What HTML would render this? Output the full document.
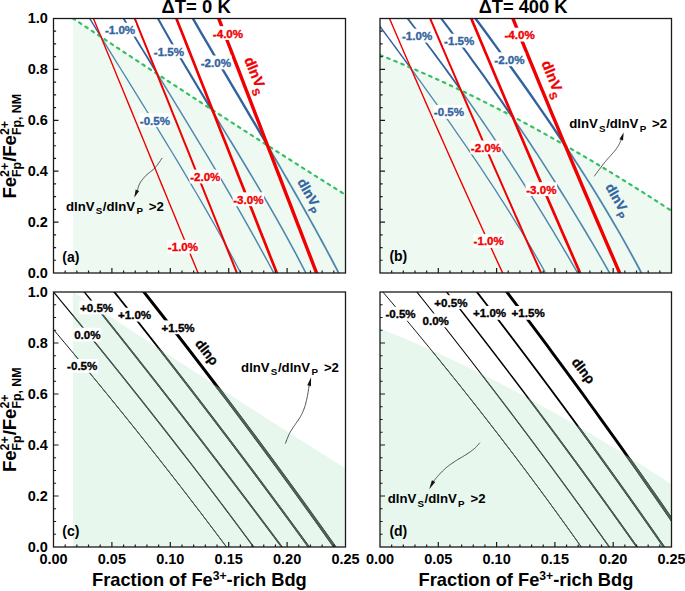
<!DOCTYPE html><html><head><meta charset="utf-8"><style>html,body{margin:0;padding:0;background:#fff;overflow:hidden;}svg{display:block;}text{font-family:"Liberation Sans",sans-serif;font-weight:bold;}</style></head><body>
<svg width="685" height="591" viewBox="0 0 685 591">
<rect width="100%" height="100%" fill="#fff"/>
<defs>
<clipPath id="ca"><rect x="53.5" y="18.5" width="292" height="254.5"/></clipPath>
<clipPath id="cb"><rect x="380" y="18.5" width="291.5" height="254.5"/></clipPath>
<clipPath id="cc"><rect x="53.5" y="292" width="292" height="255"/></clipPath>
<clipPath id="cd"><rect x="380" y="292" width="291.5" height="255"/></clipPath>
<clipPath id="fc"><polygon points="72.9,291.76 77.52,294.83 82.14,297.91 86.76,300.97 91.38,304.04 96,307.1 100.62,310.16 105.24,313.22 109.86,316.28 114.48,319.33 119.1,322.38 123.72,325.43 128.34,328.47 132.96,331.52 137.58,334.56 142.21,337.6 146.83,340.63 151.45,343.66 156.07,346.69 160.69,349.72 165.31,352.74 169.93,355.76 174.55,358.78 179.17,361.8 183.79,364.81 188.41,367.82 193.03,370.83 197.65,373.83 202.27,376.83 206.89,379.83 211.51,382.83 216.13,385.82 220.75,388.81 225.37,391.8 229.99,394.78 234.61,397.76 239.23,400.74 243.85,403.71 248.47,406.68 253.09,409.65 257.71,412.62 262.33,415.58 266.95,418.54 271.57,421.5 276.19,424.45 280.82,427.4 285.44,430.35 290.06,433.29 294.68,436.23 299.3,439.17 303.92,442.1 308.54,445.03 313.16,447.96 317.78,450.88 322.4,453.8 327.02,456.72 331.64,459.63 336.26,462.54 340.88,465.45 345.5,468.35 345.5,547 72.9,547"/></clipPath>
<clipPath id="fd"><polygon points="380,328.59 384.94,330.54 389.88,332.52 394.82,334.53 399.76,336.56 404.7,338.62 409.64,340.71 414.58,342.82 419.53,344.96 424.47,347.12 429.41,349.32 434.35,351.53 439.29,353.77 444.23,356.04 449.17,358.33 454.11,360.65 459.05,362.99 463.99,365.36 468.93,367.75 473.87,370.16 478.81,372.6 483.75,375.06 488.69,377.55 493.64,380.06 498.58,382.59 503.52,385.14 508.46,387.72 513.4,390.32 518.34,392.94 523.28,395.59 528.22,398.25 533.16,400.94 538.1,403.65 543.04,406.38 547.98,409.13 552.92,411.91 557.86,414.7 562.81,417.52 567.75,420.35 572.69,423.21 577.63,426.08 582.57,428.98 587.51,431.89 592.45,434.83 597.39,437.78 602.33,440.76 607.27,443.75 612.21,446.76 617.15,449.79 622.09,452.83 627.03,455.9 631.97,458.98 636.92,462.09 641.86,465.2 646.8,468.34 651.74,471.49 656.68,474.66 661.62,477.85 666.56,481.06 671.5,484.28 671.5,547 380,547"/></clipPath>
</defs>
<polygon fill="#eef9f1" points="72.9,18.26 77.52,21.33 82.14,24.41 86.76,27.47 91.38,30.54 96,33.6 100.62,36.66 105.24,39.72 109.86,42.78 114.48,45.83 119.1,48.88 123.72,51.93 128.34,54.97 132.96,58.02 137.58,61.06 142.21,64.1 146.83,67.13 151.45,70.16 156.07,73.19 160.69,76.22 165.31,79.24 169.93,82.26 174.55,85.28 179.17,88.3 183.79,91.31 188.41,94.32 193.03,97.33 197.65,100.33 202.27,103.33 206.89,106.33 211.51,109.33 216.13,112.32 220.75,115.31 225.37,118.3 229.99,121.28 234.61,124.26 239.23,127.24 243.85,130.21 248.47,133.18 253.09,136.15 257.71,139.12 262.33,142.08 266.95,145.04 271.57,148 276.19,150.95 280.82,153.9 285.44,156.85 290.06,159.79 294.68,162.73 299.3,165.67 303.92,168.6 308.54,171.53 313.16,174.46 317.78,177.38 322.4,180.3 327.02,183.22 331.64,186.13 336.26,189.04 340.88,191.95 345.5,194.85 345.5,273 72.9,273"/>
<polygon fill="#eef9f1" points="380,55.09 384.94,57.04 389.88,59.02 394.82,61.03 399.76,63.06 404.7,65.12 409.64,67.21 414.58,69.32 419.53,71.46 424.47,73.62 429.41,75.82 434.35,78.03 439.29,80.27 444.23,82.54 449.17,84.83 454.11,87.15 459.05,89.49 463.99,91.86 468.93,94.25 473.87,96.66 478.81,99.1 483.75,101.56 488.69,104.05 493.64,106.56 498.58,109.09 503.52,111.64 508.46,114.22 513.4,116.82 518.34,119.44 523.28,122.09 528.22,124.75 533.16,127.44 538.1,130.15 543.04,132.88 547.98,135.63 552.92,138.41 557.86,141.2 562.81,144.02 567.75,146.85 572.69,149.71 577.63,152.58 582.57,155.48 587.51,158.39 592.45,161.33 597.39,164.28 602.33,167.26 607.27,170.25 612.21,173.26 617.15,176.29 622.09,179.33 627.03,182.4 631.97,185.48 636.92,188.59 641.86,191.7 646.8,194.84 651.74,197.99 656.68,201.16 661.62,204.35 666.56,207.56 671.5,210.78 671.5,273 380,273"/>
<polygon fill="#e7f7ed" points="72.9,291.76 77.52,294.83 82.14,297.91 86.76,300.97 91.38,304.04 96,307.1 100.62,310.16 105.24,313.22 109.86,316.28 114.48,319.33 119.1,322.38 123.72,325.43 128.34,328.47 132.96,331.52 137.58,334.56 142.21,337.6 146.83,340.63 151.45,343.66 156.07,346.69 160.69,349.72 165.31,352.74 169.93,355.76 174.55,358.78 179.17,361.8 183.79,364.81 188.41,367.82 193.03,370.83 197.65,373.83 202.27,376.83 206.89,379.83 211.51,382.83 216.13,385.82 220.75,388.81 225.37,391.8 229.99,394.78 234.61,397.76 239.23,400.74 243.85,403.71 248.47,406.68 253.09,409.65 257.71,412.62 262.33,415.58 266.95,418.54 271.57,421.5 276.19,424.45 280.82,427.4 285.44,430.35 290.06,433.29 294.68,436.23 299.3,439.17 303.92,442.1 308.54,445.03 313.16,447.96 317.78,450.88 322.4,453.8 327.02,456.72 331.64,459.63 336.26,462.54 340.88,465.45 345.5,468.35 345.5,547 72.9,547"/>
<polygon fill="#e7f7ed" points="380,328.59 384.94,330.54 389.88,332.52 394.82,334.53 399.76,336.56 404.7,338.62 409.64,340.71 414.58,342.82 419.53,344.96 424.47,347.12 429.41,349.32 434.35,351.53 439.29,353.77 444.23,356.04 449.17,358.33 454.11,360.65 459.05,362.99 463.99,365.36 468.93,367.75 473.87,370.16 478.81,372.6 483.75,375.06 488.69,377.55 493.64,380.06 498.58,382.59 503.52,385.14 508.46,387.72 513.4,390.32 518.34,392.94 523.28,395.59 528.22,398.25 533.16,400.94 538.1,403.65 543.04,406.38 547.98,409.13 552.92,411.91 557.86,414.7 562.81,417.52 567.75,420.35 572.69,423.21 577.63,426.08 582.57,428.98 587.51,431.89 592.45,434.83 597.39,437.78 602.33,440.76 607.27,443.75 612.21,446.76 617.15,449.79 622.09,452.83 627.03,455.9 631.97,458.98 636.92,462.09 641.86,465.2 646.8,468.34 651.74,471.49 656.68,474.66 661.62,477.85 666.56,481.06 671.5,484.28 671.5,547 380,547"/>
<g clip-path="url(#ca)" fill="none" stroke-linecap="butt">
<path d="M87.2,14.5 L88.26,16.25 L89.33,17.99 L90.4,19.74 L91.47,21.48 L92.54,23.23 L93.61,24.98 L94.68,26.72 L95.75,28.47 L96.83,30.22 L97.9,31.96 L98.97,33.71 L100.05,35.45 L101.12,37.2" stroke="#3263a0" stroke-width="1.4"/>
<path d="M101.12,37.2 L106.18,45.4 L111.25,53.6 L116.33,61.8 L121.41,70 L126.49,78.2 L131.57,86.4 L136.65,94.6 L141.72,102.8 L146.78,111 L151.83,119.2 L156.86,127.4 L161.87,135.6 L166.87,143.8 L171.84,152 L176.79,160.2 L181.7,168.4 L186.59,176.6 L191.44,184.8 L196.25,193 L201.02,201.2 L205.75,209.4 L210.44,217.6 L215.08,225.8 L219.66,234 L224.19,242.2 L228.67,250.4 L233.08,258.6 L237.43,266.8 L241.72,275" stroke="#4f86ad" stroke-width="1.3"/>
<path d="M121.2,14.5 L123.89,18.95 L126.59,23.41 L129.29,27.86 L131.99,32.32 L134.7,36.77 L137.41,41.22 L140.13,45.68 L142.85,50.13 L145.57,54.58 L148.29,59.04 L151.01,63.49 L153.74,67.95 L156.46,72.4" stroke="#3263a0" stroke-width="1.8"/>
<path d="M156.46,72.4 L160.74,79.39 L165.01,86.37 L169.28,93.36 L173.55,100.34 L177.82,107.33 L182.07,114.32 L186.32,121.3 L190.57,128.29 L194.8,135.28 L199.01,142.26 L203.22,149.25 L207.4,156.23 L211.58,163.22 L215.73,170.21 L219.86,177.19 L223.98,184.18 L228.06,191.17 L232.13,198.15 L236.17,205.14 L240.18,212.12 L244.17,219.11 L248.12,226.1 L252.05,233.08 L255.94,240.07 L259.79,247.06 L263.61,254.04 L267.39,261.03 L271.14,268.01 L274.84,275" stroke="#4f86ad" stroke-width="1.45"/>
<path d="M155.74,14.5 L159.76,21.74 L163.82,28.98 L167.94,36.22 L172.09,43.45 L176.29,50.69 L180.52,57.93 L184.79,65.17 L189.08,72.41 L193.4,79.65 L197.74,86.88 L202.1,94.12 L206.48,101.36 L210.86,108.6" stroke="#3263a0" stroke-width="2.1"/>
<path d="M210.86,108.6 L214.35,114.34 L217.83,120.08 L221.32,125.81 L224.81,131.55 L228.29,137.29 L231.78,143.03 L235.25,148.77 L238.72,154.5 L242.19,160.24 L245.64,165.98 L249.08,171.72 L252.5,177.46 L255.91,183.19 L259.3,188.93 L262.67,194.67 L266.02,200.41 L269.35,206.14 L272.66,211.88 L275.93,217.62 L279.18,223.36 L282.41,229.1 L285.6,234.83 L288.75,240.57 L291.87,246.31 L294.96,252.05 L298.01,257.79 L301.01,263.52 L303.98,269.26 L306.9,275" stroke="#4f86ad" stroke-width="1.6"/>
<path d="M190.59,14.5 L196.45,24.65 L202.34,34.81 L208.27,44.96 L214.22,55.12 L220.2,65.27 L226.19,75.42 L232.19,85.58 L238.2,95.73 L244.2,105.88 L250.21,116.04 L256.2,126.19 L262.18,136.35 L268.14,146.5" stroke="#3263a0" stroke-width="2.4"/>
<path d="M268.14,146.5 L270.74,150.93 L273.32,155.36 L275.91,159.79 L278.48,164.22 L281.06,168.66 L283.62,173.09 L286.18,177.52 L288.72,181.95 L291.27,186.38 L293.8,190.81 L296.32,195.24 L298.84,199.67 L301.34,204.1 L303.83,208.53 L306.32,212.97 L308.79,217.4 L311.25,221.83 L313.7,226.26 L316.14,230.69 L318.56,235.12 L320.98,239.55 L323.37,243.98 L325.76,248.41 L328.13,252.84 L330.48,257.28 L332.82,261.71 L335.15,266.14 L337.45,270.57 L339.74,275" stroke="#4f86ad" stroke-width="1.8"/>
<path d="M72.9,18.26 L76.38,20.57 L79.85,22.88 L83.33,25.19 L86.8,27.5 L90.28,29.81 L93.76,32.11 L97.23,34.42 L100.71,36.72 L104.18,39.02 L107.66,41.32 L111.14,43.62 L114.61,45.92 L118.09,48.21 L121.56,50.5 L125.04,52.8 L128.52,55.09 L131.99,57.38 L135.47,59.66 L138.94,61.95 L142.42,64.24 L145.89,66.52 L149.37,68.8 L152.85,71.08 L156.32,73.36 L159.8,75.64 L163.27,77.91 L166.75,80.19 L170.23,82.46 L173.7,84.73 L177.18,87 L180.65,89.27 L184.13,91.53 L187.61,93.8 L191.08,96.06 L194.56,98.32 L198.03,100.58 L201.51,102.84 L204.99,105.1 L208.46,107.35 L211.94,109.6 L215.41,111.86 L218.89,114.11 L222.37,116.35 L225.84,118.6 L229.32,120.84 L232.79,123.09 L236.27,125.33 L239.75,127.57 L243.22,129.81 L246.7,132.04 L250.17,134.28 L253.65,136.51 L257.13,138.74 L260.6,140.97 L264.08,143.2 L267.55,145.42 L271.03,147.65 L274.51,149.87 L277.98,152.09 L281.46,154.31 L284.93,156.52 L288.41,158.74 L291.88,160.95 L295.36,163.16 L298.84,165.37 L302.31,167.58 L305.79,169.79 L309.26,171.99 L312.74,174.19 L316.22,176.39 L319.69,178.59 L323.17,180.79 L326.64,182.98 L330.12,185.17 L333.6,187.37 L337.07,189.55 L340.55,191.74 L344.02,193.93 L347.5,196.11" stroke="#36c064" stroke-width="2.2" stroke-linecap="round" stroke-dasharray="2.6 5" stroke-dashoffset="0.16"/>
<path d="M92.64,16.5 L96.31,25.41 L99.97,34.33 L103.63,43.24 L107.29,52.16 L110.96,61.07 L114.62,69.98 L118.28,78.9 L121.95,87.81 L125.61,96.72 L129.27,105.64 L132.94,114.55 L136.6,123.47 L140.26,132.38 L143.93,141.29 L147.59,150.21 L151.25,159.12 L154.92,168.03 L158.58,176.95 L162.24,185.86 L165.91,194.78 L169.57,203.69 L173.23,212.6 L176.9,221.52 L180.56,230.43 L184.22,239.34 L187.88,248.26 L191.55,257.17 L195.21,266.09 L198.87,275" stroke="#f00000" stroke-width="1.4"/>
<path d="M133.96,16.5 L137.54,25.41 L141.12,34.33 L144.7,43.24 L148.28,52.16 L151.86,61.07 L155.43,69.98 L159.01,78.9 L162.59,87.81 L166.17,96.72 L169.75,105.64 L173.32,114.55 L176.9,123.47 L180.48,132.38 L184.06,141.29 L187.64,150.21 L191.22,159.12 L194.79,168.03 L198.37,176.95 L201.95,185.86 L205.53,194.78 L209.11,203.69 L212.69,212.6 L216.26,221.52 L219.84,230.43 L223.42,239.34 L227,248.26 L230.58,257.17 L234.16,266.09 L237.73,275" stroke="#f00000" stroke-width="2.0"/>
<path d="M175.61,16.5 L179.12,25.41 L182.64,34.33 L186.16,43.24 L189.68,52.16 L193.19,61.07 L196.71,69.98 L200.23,78.9 L203.74,87.81 L207.26,96.72 L210.78,105.64 L214.3,114.55 L217.81,123.47 L221.33,132.38 L224.85,141.29 L228.37,150.21 L231.88,159.12 L235.4,168.03 L238.92,176.95 L242.43,185.86 L245.95,194.78 L249.47,203.69 L252.99,212.6 L256.5,221.52 L260.02,230.43 L263.54,239.34 L267.06,248.26 L270.57,257.17 L274.09,266.09 L277.61,275" stroke="#f00000" stroke-width="2.7"/>
<path d="M217.94,16.5 L221.36,25.41 L224.79,34.33 L228.22,43.24 L231.65,52.16 L235.08,61.07 L238.5,69.98 L241.93,78.9 L245.36,87.81 L248.79,96.72 L252.21,105.64 L255.64,114.55 L259.07,123.47 L262.5,132.38 L265.92,141.29 L269.35,150.21 L272.78,159.12 L276.21,168.03 L279.63,176.95 L283.06,185.86 L286.49,194.78 L289.92,203.69 L293.34,212.6 L296.77,221.52 L300.2,230.43 L303.63,239.34 L307.05,248.26 L310.48,257.17 L313.91,266.09 L317.34,275" stroke="#f00000" stroke-width="3.4"/>
</g>
<g clip-path="url(#cb)" fill="none" stroke-linecap="butt">
<path d="M376.97,22.4 L379.66,26.02 L382.35,29.65 L385.03,33.27 L387.71,36.89 L390.39,40.52 L393.06,44.14 L395.73,47.76 L398.39,51.38 L401.05,55.01 L403.71,58.63 L406.36,62.25 L409.01,65.88 L411.65,69.5" stroke="#3263a0" stroke-width="1.4"/>
<path d="M411.65,69.5 L416.81,76.59 L421.94,83.67 L427.05,90.76 L432.14,97.84 L437.19,104.93 L442.22,112.02 L447.23,119.1 L452.2,126.19 L457.14,133.28 L462.04,140.36 L466.91,147.45 L471.74,154.53 L476.54,161.62 L481.29,168.71 L486,175.79 L490.67,182.88 L495.29,189.97 L499.86,197.05 L504.39,204.14 L508.87,211.22 L513.3,218.31 L517.67,225.4 L521.99,232.48 L526.25,239.57 L530.46,246.66 L534.6,253.74 L538.69,260.83 L542.71,267.91 L546.67,275" stroke="#4f86ad" stroke-width="1.3"/>
<path d="M404.54,14.5 L409.07,20.34 L413.57,26.18 L418.04,32.02 L422.47,37.85 L426.88,43.69 L431.25,49.53 L435.59,55.37 L439.9,61.21 L444.18,67.05 L448.43,72.88 L452.65,78.72 L456.84,84.56 L461,90.4" stroke="#3263a0" stroke-width="1.8"/>
<path d="M461,90.4 L465.5,96.77 L469.97,103.13 L474.4,109.5 L478.8,115.86 L483.17,122.23 L487.5,128.59 L491.8,134.96 L496.07,141.32 L500.31,147.69 L504.51,154.06 L508.69,160.42 L512.83,166.79 L516.94,173.15 L521.02,179.52 L525.07,185.88 L529.1,192.25 L533.09,198.61 L537.05,204.98 L540.99,211.34 L544.89,217.71 L548.77,224.08 L552.62,230.44 L556.45,236.81 L560.24,243.17 L564.02,249.54 L567.76,255.9 L571.48,262.27 L575.17,268.63 L578.84,275" stroke="#4f86ad" stroke-width="1.45"/>
<path d="M438.22,14.5 L444.2,22.34 L450.12,30.18 L455.99,38.02 L461.81,45.85 L467.58,53.69 L473.29,61.53 L478.96,69.37 L484.58,77.21 L490.15,85.05 L495.67,92.88 L501.14,100.72 L506.56,108.56 L511.93,116.4" stroke="#3263a0" stroke-width="2.1"/>
<path d="M511.93,116.4 L515.65,121.87 L519.35,127.34 L523.03,132.81 L526.68,138.28 L530.31,143.74 L533.91,149.21 L537.49,154.68 L541.05,160.15 L544.59,165.62 L548.11,171.09 L551.6,176.56 L555.07,182.03 L558.52,187.5 L561.95,192.97 L565.35,198.43 L568.74,203.9 L572.1,209.37 L575.44,214.84 L578.76,220.31 L582.05,225.78 L585.33,231.25 L588.59,236.72 L591.82,242.19 L595.03,247.66 L598.23,253.12 L601.4,258.59 L604.55,264.06 L607.68,269.53 L610.79,275" stroke="#4f86ad" stroke-width="1.6"/>
<path d="M472.52,14.5 L479.95,24.54 L487.34,34.58 L494.69,44.62 L501.99,54.65 L509.24,64.69 L516.43,74.73 L523.56,84.77 L530.64,94.81 L537.64,104.85 L544.57,114.88 L551.43,124.92 L558.21,134.96 L564.91,145" stroke="#3263a0" stroke-width="2.4"/>
<path d="M564.91,145 L567.87,149.48 L570.82,153.97 L573.75,158.45 L576.66,162.93 L579.55,167.41 L582.42,171.9 L585.27,176.38 L588.11,180.86 L590.92,185.34 L593.71,189.83 L596.49,194.31 L599.24,198.79 L601.97,203.28 L604.68,207.76 L607.36,212.24 L610.03,216.72 L612.67,221.21 L615.29,225.69 L617.88,230.17 L620.45,234.66 L623,239.14 L625.52,243.62 L628.02,248.1 L630.49,252.59 L632.94,257.07 L635.36,261.55 L637.76,266.03 L640.12,270.52 L642.47,275" stroke="#4f86ad" stroke-width="1.8"/>
<path d="M380,55.09 L383.72,56.56 L387.43,58.04 L391.15,59.53 L394.86,61.04 L398.58,62.57 L402.29,64.11 L406.01,65.67 L409.72,67.24 L413.44,68.83 L417.15,70.43 L420.87,72.05 L424.58,73.68 L428.3,75.32 L432.01,76.98 L435.73,78.66 L439.44,80.34 L443.16,82.05 L446.87,83.76 L450.59,85.5 L454.3,87.24 L458.02,89 L461.73,90.77 L465.45,92.56 L469.16,94.36 L472.88,96.17 L476.59,98 L480.31,99.84 L484.03,101.7 L487.74,103.56 L491.46,105.45 L495.17,107.34 L498.89,109.25 L502.6,111.17 L506.32,113.1 L510.03,115.05 L513.75,117 L517.46,118.97 L521.18,120.96 L524.89,122.95 L528.61,124.96 L532.32,126.98 L536.04,129.02 L539.75,131.06 L543.47,133.12 L547.18,135.19 L550.9,137.27 L554.61,139.36 L558.33,141.47 L562.04,143.58 L565.76,145.71 L569.47,147.85 L573.19,150 L576.91,152.16 L580.62,154.34 L584.34,156.52 L588.05,158.72 L591.77,160.92 L595.48,163.14 L599.2,165.37 L602.91,167.61 L606.63,169.86 L610.34,172.12 L614.06,174.39 L617.77,176.67 L621.49,178.96 L625.2,181.26 L628.92,183.57 L632.63,185.9 L636.35,188.23 L640.06,190.57 L643.78,192.92 L647.49,195.28 L651.21,197.66 L654.92,200.04 L658.64,202.43 L662.35,204.83 L666.07,207.24 L669.78,209.66 L673.5,212.08" stroke="#36c064" stroke-width="2.2" stroke-linecap="round" stroke-dasharray="2.6 4.99" stroke-dashoffset="7.41"/>
<path d="M388.69,16.5 L392.49,25.41 L396.29,34.33 L400.11,43.24 L403.94,52.16 L407.79,61.07 L411.64,69.98 L415.51,78.9 L419.39,87.81 L423.28,96.72 L427.18,105.64 L431.1,114.55 L435.03,123.47 L438.96,132.38 L442.92,141.29 L446.88,150.21 L450.85,159.12 L454.84,168.03 L458.84,176.95 L462.85,185.86 L466.88,194.78 L470.91,203.69 L474.96,212.6 L479.02,221.52 L483.09,230.43 L487.17,239.34 L491.27,248.26 L495.38,257.17 L499.5,266.09 L503.63,275" stroke="#f00000" stroke-width="1.4"/>
<path d="M429.28,16.5 L433.08,25.41 L436.88,34.33 L440.69,43.24 L444.5,52.16 L448.32,61.07 L452.15,69.98 L455.99,78.9 L459.83,87.81 L463.67,96.72 L467.53,105.64 L471.39,114.55 L475.25,123.47 L479.13,132.38 L483.01,141.29 L486.89,150.21 L490.78,159.12 L494.68,168.03 L498.59,176.95 L502.5,185.86 L506.42,194.78 L510.34,203.69 L514.27,212.6 L518.21,221.52 L522.15,230.43 L526.1,239.34 L530.06,248.26 L534.02,257.17 L537.99,266.09 L541.97,275" stroke="#f00000" stroke-width="2.0"/>
<path d="M470.47,16.5 L474.19,25.41 L477.92,34.33 L481.65,43.24 L485.39,52.16 L489.14,61.07 L492.89,69.98 L496.65,78.9 L500.41,87.81 L504.19,96.72 L507.96,105.64 L511.75,114.55 L515.54,123.47 L519.34,132.38 L523.14,141.29 L526.95,150.21 L530.77,159.12 L534.59,168.03 L538.43,176.95 L542.26,185.86 L546.1,194.78 L549.95,203.69 L553.81,212.6 L557.67,221.52 L561.54,230.43 L565.42,239.34 L569.3,248.26 L573.19,257.17 L577.08,266.09 L580.98,275" stroke="#f00000" stroke-width="2.7"/>
<path d="M512.1,16.5 L515.7,25.41 L519.32,34.33 L522.94,43.24 L526.58,52.16 L530.22,61.07 L533.87,69.98 L537.53,78.9 L541.2,87.81 L544.89,96.72 L548.58,105.64 L552.28,114.55 L555.99,123.47 L559.71,132.38 L563.44,141.29 L567.18,150.21 L570.93,159.12 L574.69,168.03 L578.46,176.95 L582.23,185.86 L586.02,194.78 L589.82,203.69 L593.63,212.6 L597.44,221.52 L601.27,230.43 L605.11,239.34 L608.95,248.26 L612.81,257.17 L616.67,266.09 L620.55,275" stroke="#f00000" stroke-width="3.4"/>
</g>
<g clip-path="url(#cc)" fill="none">
<path d="M51.34,327 L57.83,334.69 L64.29,342.38 L70.73,350.07 L77.14,357.76 L83.52,365.45 L89.88,373.14 L96.21,380.83 L102.51,388.52 L108.79,396.21 L115.04,403.9 L121.26,411.59 L127.46,419.28 L133.63,426.97 L139.77,434.66 L145.89,442.34 L151.98,450.03 L158.04,457.72 L164.08,465.41 L170.09,473.1 L176.08,480.79 L182.03,488.48 L187.96,496.17 L193.87,503.86 L199.75,511.55 L205.6,519.24 L211.42,526.93 L217.22,534.62 L222.99,542.31 L228.73,550" stroke="#000" stroke-width="0.9"/>
<path d="M51.12,289.1 L58.61,298.1 L66.06,307.09 L73.48,316.09 L80.87,325.09 L88.23,334.08 L95.57,343.08 L102.87,352.08 L110.14,361.07 L117.38,370.07 L124.59,379.07 L131.77,388.06 L138.92,397.06 L146.04,406.06 L153.14,415.05 L160.2,424.05 L167.23,433.04 L174.23,442.04 L181.2,451.04 L188.14,460.03 L195.05,469.03 L201.93,478.03 L208.78,487.02 L215.6,496.02 L222.39,505.02 L229.15,514.01 L235.88,523.01 L242.58,532.01 L249.25,541 L255.89,550" stroke="#000" stroke-width="1.1"/>
<path d="M81.93,289 L89.17,298 L96.39,307 L103.59,316 L110.77,325 L117.93,334 L125.08,343 L132.2,352 L139.3,361 L146.39,370 L153.46,379 L160.5,388 L167.53,397 L174.54,406 L181.53,415 L188.5,424 L195.45,433 L202.38,442 L209.3,451 L216.19,460 L223.07,469 L229.92,478 L236.76,487 L243.58,496 L250.37,505 L257.15,514 L263.91,523 L270.65,532 L277.37,541 L284.08,550" stroke="#000" stroke-width="1.4"/>
<path d="M111.91,289 L119.1,298 L126.26,307 L133.39,316 L140.51,325 L147.6,334 L154.67,343 L161.72,352 L168.74,361 L175.74,370 L182.72,379 L189.68,388 L196.61,397 L203.52,406 L210.41,415 L217.27,424 L224.11,433 L230.93,442 L237.73,451 L244.5,460 L251.25,469 L257.98,478 L264.68,487 L271.36,496 L278.02,505 L284.66,514 L291.27,523 L297.86,532 L304.43,541 L310.98,550" stroke="#000" stroke-width="1.9"/>
<path d="M141.52,289 L148.63,298 L155.71,307 L162.76,316 L169.78,325 L176.78,334 L183.76,343 L190.7,352 L197.62,361 L204.52,370 L211.39,379 L218.23,388 L225.04,397 L231.83,406 L238.6,415 L245.33,424 L252.04,433 L258.73,442 L265.38,451 L272.01,460 L278.62,469 L285.2,478 L291.75,487 L298.28,496 L304.78,505 L311.25,514 L317.7,523 L324.12,532 L330.51,541 L336.88,550" stroke="#000" stroke-width="2.9"/>
</g>
<g clip-path="url(#fc)" fill="none">
<path d="M51.34,327 L57.83,334.69 L64.29,342.38 L70.73,350.07 L77.14,357.76 L83.52,365.45 L89.88,373.14 L96.21,380.83 L102.51,388.52 L108.79,396.21 L115.04,403.9 L121.26,411.59 L127.46,419.28 L133.63,426.97 L139.77,434.66 L145.89,442.34 L151.98,450.03 L158.04,457.72 L164.08,465.41 L170.09,473.1 L176.08,480.79 L182.03,488.48 L187.96,496.17 L193.87,503.86 L199.75,511.55 L205.6,519.24 L211.42,526.93 L217.22,534.62 L222.99,542.31 L228.73,550" stroke="#4c6157" stroke-width="0.9"/>
<path d="M51.12,289.1 L58.61,298.1 L66.06,307.09 L73.48,316.09 L80.87,325.09 L88.23,334.08 L95.57,343.08 L102.87,352.08 L110.14,361.07 L117.38,370.07 L124.59,379.07 L131.77,388.06 L138.92,397.06 L146.04,406.06 L153.14,415.05 L160.2,424.05 L167.23,433.04 L174.23,442.04 L181.2,451.04 L188.14,460.03 L195.05,469.03 L201.93,478.03 L208.78,487.02 L215.6,496.02 L222.39,505.02 L229.15,514.01 L235.88,523.01 L242.58,532.01 L249.25,541 L255.89,550" stroke="#4c6157" stroke-width="1.1"/>
<path d="M81.93,289 L89.17,298 L96.39,307 L103.59,316 L110.77,325 L117.93,334 L125.08,343 L132.2,352 L139.3,361 L146.39,370 L153.46,379 L160.5,388 L167.53,397 L174.54,406 L181.53,415 L188.5,424 L195.45,433 L202.38,442 L209.3,451 L216.19,460 L223.07,469 L229.92,478 L236.76,487 L243.58,496 L250.37,505 L257.15,514 L263.91,523 L270.65,532 L277.37,541 L284.08,550" stroke="#4c6157" stroke-width="1.4"/>
<path d="M111.91,289 L119.1,298 L126.26,307 L133.39,316 L140.51,325 L147.6,334 L154.67,343 L161.72,352 L168.74,361 L175.74,370 L182.72,379 L189.68,388 L196.61,397 L203.52,406 L210.41,415 L217.27,424 L224.11,433 L230.93,442 L237.73,451 L244.5,460 L251.25,469 L257.98,478 L264.68,487 L271.36,496 L278.02,505 L284.66,514 L291.27,523 L297.86,532 L304.43,541 L310.98,550" stroke="#4c6157" stroke-width="1.9"/>
<path d="M141.52,289 L148.63,298 L155.71,307 L162.76,316 L169.78,325 L176.78,334 L183.76,343 L190.7,352 L197.62,361 L204.52,370 L211.39,379 L218.23,388 L225.04,397 L231.83,406 L238.6,415 L245.33,424 L252.04,433 L258.73,442 L265.38,451 L272.01,460 L278.62,469 L285.2,478 L291.75,487 L298.28,496 L304.78,505 L311.25,514 L317.7,523 L324.12,532 L330.51,541 L336.88,550" stroke="#4c6157" stroke-width="2.9"/>
</g>
<g clip-path="url(#cd)" fill="none">
<path d="M380.33,289 L387.97,298 L395.56,307 L403.11,316 L410.61,325 L418.07,334 L425.48,343 L432.85,352 L440.17,361 L447.45,370 L454.68,379 L461.86,388 L469,397 L476.1,406 L483.15,415 L490.15,424 L497.11,433 L504.02,442 L510.89,451 L517.71,460 L524.49,469 L531.22,478 L537.91,487 L544.55,496 L551.14,505 L557.69,514 L564.2,523 L570.66,532 L577.07,541 L583.44,550" stroke="#000" stroke-width="0.9"/>
<path d="M414.48,289 L421.66,298 L428.82,307 L435.95,316 L443.06,325 L450.13,334 L457.18,343 L464.19,352 L471.18,361 L478.14,370 L485.08,379 L491.98,388 L498.86,397 L505.71,406 L512.53,415 L519.32,424 L526.08,433 L532.82,442 L539.53,451 L546.2,460 L552.86,469 L559.48,478 L566.07,487 L572.64,496 L579.18,505 L585.69,514 L592.17,523 L598.62,532 L605.05,541 L611.44,550" stroke="#000" stroke-width="1.1"/>
<path d="M444.28,289 L451.35,298 L458.39,307 L465.41,316 L472.4,325 L479.37,334 L486.31,343 L493.22,352 L500.12,361 L506.98,370 L513.82,379 L520.64,388 L527.43,397 L534.2,406 L540.94,415 L547.66,424 L554.35,433 L561.02,442 L567.66,451 L574.28,460 L580.87,469 L587.44,478 L593.98,487 L600.5,496 L606.99,505 L613.46,514 L619.9,523 L626.32,532 L632.71,541 L639.08,550" stroke="#000" stroke-width="1.4"/>
<path d="M474.59,289 L481.55,298 L488.48,307 L495.39,316 L502.27,325 L509.13,334 L515.96,343 L522.76,352 L529.54,361 L536.3,370 L543.03,379 L549.73,388 L556.41,397 L563.06,406 L569.69,415 L576.29,424 L582.87,433 L589.42,442 L595.94,451 L602.44,460 L608.92,469 L615.37,478 L621.79,487 L628.19,496 L634.56,505 L640.91,514 L647.23,523 L653.52,532 L659.79,541 L666.04,550" stroke="#000" stroke-width="1.9"/>
<path d="M504.59,289 L510.69,297.03 L516.77,305.07 L522.83,313.1 L528.88,321.14 L534.9,329.17 L540.9,337.21 L546.88,345.24 L552.84,353.28 L558.77,361.31 L564.69,369.34 L570.59,377.38 L576.47,385.41 L582.33,393.45 L588.16,401.48 L593.98,409.52 L599.78,417.55 L605.55,425.59 L611.31,433.62 L617.04,441.66 L622.76,449.69 L628.45,457.72 L634.13,465.76 L639.78,473.79 L645.41,481.83 L651.03,489.86 L656.62,497.9 L662.19,505.93 L667.74,513.97 L673.27,522" stroke="#000" stroke-width="2.9"/>
</g>
<g clip-path="url(#fd)" fill="none">
<path d="M380.33,289 L387.97,298 L395.56,307 L403.11,316 L410.61,325 L418.07,334 L425.48,343 L432.85,352 L440.17,361 L447.45,370 L454.68,379 L461.86,388 L469,397 L476.1,406 L483.15,415 L490.15,424 L497.11,433 L504.02,442 L510.89,451 L517.71,460 L524.49,469 L531.22,478 L537.91,487 L544.55,496 L551.14,505 L557.69,514 L564.2,523 L570.66,532 L577.07,541 L583.44,550" stroke="#4c6157" stroke-width="0.9"/>
<path d="M414.48,289 L421.66,298 L428.82,307 L435.95,316 L443.06,325 L450.13,334 L457.18,343 L464.19,352 L471.18,361 L478.14,370 L485.08,379 L491.98,388 L498.86,397 L505.71,406 L512.53,415 L519.32,424 L526.08,433 L532.82,442 L539.53,451 L546.2,460 L552.86,469 L559.48,478 L566.07,487 L572.64,496 L579.18,505 L585.69,514 L592.17,523 L598.62,532 L605.05,541 L611.44,550" stroke="#4c6157" stroke-width="1.1"/>
<path d="M444.28,289 L451.35,298 L458.39,307 L465.41,316 L472.4,325 L479.37,334 L486.31,343 L493.22,352 L500.12,361 L506.98,370 L513.82,379 L520.64,388 L527.43,397 L534.2,406 L540.94,415 L547.66,424 L554.35,433 L561.02,442 L567.66,451 L574.28,460 L580.87,469 L587.44,478 L593.98,487 L600.5,496 L606.99,505 L613.46,514 L619.9,523 L626.32,532 L632.71,541 L639.08,550" stroke="#4c6157" stroke-width="1.4"/>
<path d="M474.59,289 L481.55,298 L488.48,307 L495.39,316 L502.27,325 L509.13,334 L515.96,343 L522.76,352 L529.54,361 L536.3,370 L543.03,379 L549.73,388 L556.41,397 L563.06,406 L569.69,415 L576.29,424 L582.87,433 L589.42,442 L595.94,451 L602.44,460 L608.92,469 L615.37,478 L621.79,487 L628.19,496 L634.56,505 L640.91,514 L647.23,523 L653.52,532 L659.79,541 L666.04,550" stroke="#4c6157" stroke-width="1.9"/>
<path d="M504.59,289 L510.69,297.03 L516.77,305.07 L522.83,313.1 L528.88,321.14 L534.9,329.17 L540.9,337.21 L546.88,345.24 L552.84,353.28 L558.77,361.31 L564.69,369.34 L570.59,377.38 L576.47,385.41 L582.33,393.45 L588.16,401.48 L593.98,409.52 L599.78,417.55 L605.55,425.59 L611.31,433.62 L617.04,441.66 L622.76,449.69 L628.45,457.72 L634.13,465.76 L639.78,473.79 L645.41,481.83 L651.03,489.86 L656.62,497.9 L662.19,505.93 L667.74,513.97 L673.27,522" stroke="#4c6157" stroke-width="2.9"/>
</g>
<rect x="104.3" y="22.74" width="31.5" height="13.8" fill="#fff"/>
<text x="104.9" y="34.11" fill="#3465a0" stroke="#3465a0" stroke-width="0.35" font-size="11.6">-1.0%</text>
<rect x="153.2" y="44.39" width="31.5" height="13.8" fill="#fff"/>
<text x="153.8" y="55.76" fill="#3465a0" stroke="#3465a0" stroke-width="0.35" font-size="11.6">-1.5%</text>
<rect x="200.15" y="55.54" width="31.5" height="13.8" fill="#fff"/>
<text x="200.75" y="66.91" fill="#3465a0" stroke="#3465a0" stroke-width="0.35" font-size="11.6">-2.0%</text>
<rect x="139.2" y="113.14" width="31.5" height="13.8" fill="#fff"/>
<text x="139.8" y="124.51" fill="#3465a0" stroke="#3465a0" stroke-width="0.35" font-size="11.6">-0.5%</text>
<rect x="212.25" y="26.14" width="31.5" height="13.8" fill="#fff"/>
<text x="212.85" y="37.51" fill="#f00000" stroke="#f00000" stroke-width="0.35" font-size="11.6">-4.0%</text>
<rect x="189.55" y="169.64" width="31.5" height="13.8" fill="#fff"/>
<text x="190.15" y="181.01" fill="#f00000" stroke="#f00000" stroke-width="0.35" font-size="11.6">-2.0%</text>
<rect x="232.65" y="192.34" width="31.5" height="13.8" fill="#fff"/>
<text x="233.25" y="203.71" fill="#f00000" stroke="#f00000" stroke-width="0.35" font-size="11.6">-3.0%</text>
<rect x="167.25" y="239.84" width="31.5" height="13.8" fill="#fff"/>
<text x="167.85" y="251.21" fill="#f00000" stroke="#f00000" stroke-width="0.35" font-size="11.6">-1.0%</text>
<rect x="401.4" y="28.74" width="31.5" height="13.8" fill="#fff"/>
<text x="402" y="40.11" fill="#3465a0" stroke="#3465a0" stroke-width="0.35" font-size="11.6">-1.0%</text>
<rect x="443.5" y="33.74" width="31.5" height="13.8" fill="#fff"/>
<text x="444.1" y="45.11" fill="#3465a0" stroke="#3465a0" stroke-width="0.35" font-size="11.6">-1.5%</text>
<rect x="493.75" y="52.34" width="31.5" height="13.8" fill="#fff"/>
<text x="494.35" y="63.71" fill="#3465a0" stroke="#3465a0" stroke-width="0.35" font-size="11.6">-2.0%</text>
<rect x="433.25" y="104.94" width="31.5" height="13.8" fill="#fff"/>
<text x="433.85" y="116.31" fill="#3465a0" stroke="#3465a0" stroke-width="0.35" font-size="11.6">-0.5%</text>
<rect x="503.9" y="27.74" width="31.5" height="13.8" fill="#fff"/>
<text x="504.5" y="39.11" fill="#f00000" stroke="#f00000" stroke-width="0.35" font-size="11.6">-4.0%</text>
<rect x="470.25" y="140.49" width="31.5" height="13.8" fill="#fff"/>
<text x="470.85" y="151.86" fill="#f00000" stroke="#f00000" stroke-width="0.35" font-size="11.6">-2.0%</text>
<rect x="525.6" y="182.24" width="31.5" height="13.8" fill="#fff"/>
<text x="526.2" y="193.61" fill="#f00000" stroke="#f00000" stroke-width="0.35" font-size="11.6">-3.0%</text>
<rect x="473" y="234.09" width="31.5" height="13.8" fill="#fff"/>
<text x="473.6" y="245.46" fill="#f00000" stroke="#f00000" stroke-width="0.35" font-size="11.6">-1.0%</text>
<rect x="79.34" y="300.59" width="34.41" height="13.8" fill="#fff"/>
<text x="79.94" y="311.96" fill="#000" stroke="#000" stroke-width="0.35" font-size="11.6">+0.5%</text>
<rect x="117.34" y="307.79" width="34.41" height="13.8" fill="#fff"/>
<text x="117.94" y="319.16" fill="#000" stroke="#000" stroke-width="0.35" font-size="11.6">+1.0%</text>
<rect x="160.89" y="320.39" width="34.41" height="13.8" fill="#fff"/>
<text x="161.49" y="331.76" fill="#000" stroke="#000" stroke-width="0.35" font-size="11.6">+1.5%</text>
<rect x="73.58" y="327.69" width="27.64" height="13.8" fill="#fff"/>
<text x="74.18" y="339.06" fill="#000" stroke="#000" stroke-width="0.35" font-size="11.6">0.0%</text>
<rect x="66.5" y="358.94" width="31.5" height="13.8" fill="#fff"/>
<text x="67.1" y="370.31" fill="#000" stroke="#000" stroke-width="0.35" font-size="11.6">-0.5%</text>
<rect x="384.8" y="306.99" width="31.5" height="13.8" fill="#fff"/>
<text x="385.4" y="318.36" fill="#000" stroke="#000" stroke-width="0.35" font-size="11.6">-0.5%</text>
<rect x="421.88" y="313.49" width="27.64" height="13.8" fill="#fff"/>
<text x="422.48" y="324.86" fill="#000" stroke="#000" stroke-width="0.35" font-size="11.6">0.0%</text>
<rect x="433.74" y="295.19" width="34.41" height="13.8" fill="#fff"/>
<text x="434.34" y="306.56" fill="#000" stroke="#000" stroke-width="0.35" font-size="11.6">+0.5%</text>
<rect x="472.39" y="305.99" width="34.41" height="13.8" fill="#fff"/>
<text x="472.99" y="317.36" fill="#000" stroke="#000" stroke-width="0.35" font-size="11.6">+1.0%</text>
<rect x="510.94" y="305.99" width="34.41" height="13.8" fill="#fff"/>
<text x="511.54" y="317.36" fill="#000" stroke="#000" stroke-width="0.35" font-size="11.6">+1.5%</text>
<text transform="translate(244 59.4) rotate(68)" fill="#f00000" stroke="#f00000" stroke-width="0.3" font-size="14.5">dlnV<tspan font-size="10.5" dy="4.8">S</tspan></text>
<text transform="translate(541.3 63) rotate(68)" fill="#f00000" stroke="#f00000" stroke-width="0.3" font-size="14.5">dlnV<tspan font-size="10.5" dy="4.8">S</tspan></text>
<text transform="translate(297 181.8) rotate(60)" fill="#3263a0" stroke="#3263a0" stroke-width="0.3" font-size="13.5">dlnV<tspan font-size="10" dy="4.5">P</tspan></text>
<text transform="translate(605 186.8) rotate(60)" fill="#3263a0" stroke="#3263a0" stroke-width="0.3" font-size="13.5">dlnV<tspan font-size="10" dy="4.5">P</tspan></text>
<text transform="translate(194.6 343.7) rotate(52)" fill="#000" stroke="#000" stroke-width="0.3" font-size="13.5">dlnρ</text>
<text transform="translate(571 362.2) rotate(52)" fill="#000" stroke="#000" stroke-width="0.3" font-size="13.5">dlnρ</text>
<text x="66" y="210.5" font-size="13.2" fill="#000">dlnV<tspan font-size="9.8" dy="3.8" dx="1.1">S</tspan><tspan dy="-3.8" dx="0.6">/dlnV</tspan><tspan font-size="9.8" dy="3.8" dx="1.3">P</tspan><tspan dy="-3.8" dx="2.2"> &gt;2</tspan></text>
<text x="569.3" y="128.2" font-size="13.2" fill="#000">dlnV<tspan font-size="9.8" dy="3.8" dx="1.1">S</tspan><tspan dy="-3.8" dx="0.6">/dlnV</tspan><tspan font-size="9.8" dy="3.8" dx="1.3">P</tspan><tspan dy="-3.8" dx="2.2"> &gt;2</tspan></text>
<text x="241.1" y="371.6" font-size="13.2" fill="#000">dlnV<tspan font-size="9.8" dy="3.8" dx="1.1">S</tspan><tspan dy="-3.8" dx="0.6">/dlnV</tspan><tspan font-size="9.8" dy="3.8" dx="1.3">P</tspan><tspan dy="-3.8" dx="2.2"> &gt;2</tspan></text>
<text x="387.7" y="502.7" font-size="13.2" fill="#000">dlnV<tspan font-size="9.8" dy="3.8" dx="1.1">S</tspan><tspan dy="-3.8" dx="0.6">/dlnV</tspan><tspan font-size="9.8" dy="3.8" dx="1.3">P</tspan><tspan dy="-3.8" dx="2.2"> &gt;2</tspan></text>
<path d="M162.2,158 L161.31,159.24 L160.44,160.5 L159.57,161.77 L158.71,163.04 L157.82,164.29 L156.92,165.5 L155.98,166.68 L155,167.8 L153.95,168.85 L152.83,169.85 L151.67,170.8 L150.49,171.73 L149.31,172.63 L148.18,173.54 L147.09,174.46 L146.1,175.4 L145.17,176.37 L144.27,177.35 L143.41,178.35 L142.6,179.34 L141.84,180.32 L141.13,181.3 L140.48,182.26 L139.9,183.2 L139.41,184.11 L139.01,185.01 L138.69,185.88 L138.42,186.75 L138.17,187.61 L137.94,188.47 L137.69,189.33 L137.4,190.2" fill="none" stroke="#333" stroke-width="0.85"/>
<polygon points="134.3,197.6 135.65,189.47 139.15,190.93" fill="#111"/>
<path d="M594.2,176.3 L594.9,175.36 L595.6,174.42 L596.3,173.48 L597,172.54 L597.7,171.6 L598.4,170.66 L599.1,169.73 L599.8,168.8 L600.5,167.87 L601.2,166.93 L601.91,166 L602.61,165.06 L603.31,164.14 L604.01,163.24 L604.71,162.35 L605.4,161.5 L606.09,160.68 L606.78,159.88 L607.47,159.1 L608.16,158.34 L608.84,157.59 L609.5,156.85 L610.16,156.13 L610.8,155.4 L611.43,154.68 L612.05,153.98 L612.67,153.29 L613.27,152.61 L613.86,151.93 L614.43,151.25 L614.97,150.58 L615.5,149.9 L616,149.22 L616.49,148.53 L616.96,147.84 L617.41,147.15 L617.84,146.47 L618.24,145.8 L618.63,145.14 L619,144.5 L619.34,143.88 L619.64,143.28 L619.92,142.69 L620.18,142.11 L620.43,141.53 L620.68,140.96 L620.93,140.38 L621.2,139.8" fill="none" stroke="#333" stroke-width="0.85"/>
<polygon points="623.7,132.4 623,140.41 619.4,139.19" fill="#111"/>
<path d="M285.3,443.6 L285.81,442.32 L286.31,441.02 L286.81,439.72 L287.31,438.42 L287.82,437.13 L288.34,435.86 L288.9,434.61 L289.5,433.4 L290.14,432.23 L290.82,431.08 L291.52,429.97 L292.25,428.87 L292.99,427.78 L293.73,426.69 L294.47,425.6 L295.2,424.5 L295.93,423.39 L296.69,422.27 L297.46,421.16 L298.22,420.05 L298.97,418.94 L299.69,417.82 L300.37,416.71 L301,415.6 L301.58,414.5 L302.12,413.4 L302.63,412.32 L303.11,411.23 L303.56,410.13 L303.99,409.01 L304.4,407.87 L304.8,406.7 L305.18,405.5 L305.53,404.28 L305.86,403.03 L306.18,401.77 L306.47,400.49 L306.75,399.2 L307.03,397.9 L307.3,396.6 L307.56,395.28 L307.8,393.95 L308.03,392.6 L308.24,391.24 L308.46,389.88 L308.67,388.52 L308.88,387.15 L309.1,385.8" fill="none" stroke="#333" stroke-width="0.85"/>
<polygon points="311.1,377.3 310.95,386.24 307.25,385.36" fill="#111"/>
<path d="M479.9,442.7 L479.22,443.45 L478.57,444.2 L477.92,444.95 L477.28,445.7 L476.61,446.45 L475.9,447.2 L475.13,447.95 L474.3,448.7 L473.39,449.45 L472.42,450.21 L471.39,450.97 L470.33,451.73 L469.24,452.48 L468.13,453.23 L467.01,453.97 L465.9,454.7 L464.78,455.41 L463.64,456.11 L462.48,456.79 L461.31,457.47 L460.13,458.15 L458.95,458.85 L457.77,459.56 L456.6,460.3 L455.42,461.07 L454.23,461.85 L453.03,462.65 L451.83,463.46 L450.65,464.29 L449.49,465.12 L448.37,465.96 L447.3,466.8 L446.28,467.65 L445.29,468.51 L444.34,469.37 L443.41,470.24 L442.51,471.12 L441.63,472.01 L440.76,472.9 L439.9,473.8 L439.06,474.71 L438.25,475.62 L437.46,476.55 L436.68,477.47 L435.91,478.41 L435.15,479.34 L434.38,480.27 L433.6,481.2" fill="none" stroke="#333" stroke-width="0.85"/>
<polygon points="429.2,489.2 431.94,480.28 435.26,482.12" fill="#111"/>
<rect x="53.5" y="18.5" width="292" height="254.5" fill="none" stroke="#1a1a1a" stroke-width="1.3"/>
<path d="M65.18,273v-2.6M76.86,273v-2.6M88.54,273v-2.6M100.22,273v-2.6M111.9,273v-5M123.58,273v-2.6M135.26,273v-2.6M146.94,273v-2.6M158.62,273v-2.6M170.3,273v-5M181.98,273v-2.6M193.66,273v-2.6M205.34,273v-2.6M217.02,273v-2.6M228.7,273v-5M240.38,273v-2.6M252.06,273v-2.6M263.74,273v-2.6M275.42,273v-2.6M287.1,273v-5M298.78,273v-2.6M310.46,273v-2.6M322.14,273v-2.6M333.82,273v-2.6M53.5,260.27h2.6M53.5,247.55h2.6M53.5,234.82h2.6M53.5,222.1h5M53.5,209.38h2.6M53.5,196.65h2.6M53.5,183.93h2.6M53.5,171.2h5M53.5,158.47h2.6M53.5,145.75h2.6M53.5,133.03h2.6M53.5,120.3h5M53.5,107.57h2.6M53.5,94.85h2.6M53.5,82.12h2.6M53.5,69.4h5M53.5,56.68h2.6M53.5,43.95h2.6M53.5,31.22h2.6" stroke="#1a1a1a" stroke-width="1.2" fill="none"/>
<text x="47.9" y="277.5" font-size="14.5" text-anchor="end" fill="#000">0.0</text>
<text x="47.9" y="226.6" font-size="14.5" text-anchor="end" fill="#000">0.2</text>
<text x="47.9" y="175.7" font-size="14.5" text-anchor="end" fill="#000">0.4</text>
<text x="47.9" y="124.8" font-size="14.5" text-anchor="end" fill="#000">0.6</text>
<text x="47.9" y="73.9" font-size="14.5" text-anchor="end" fill="#000">0.8</text>
<text x="47.9" y="23" font-size="14.5" text-anchor="end" fill="#000">1.0</text>
<rect x="380" y="18.5" width="291.5" height="254.5" fill="none" stroke="#1a1a1a" stroke-width="1.3"/>
<path d="M391.66,273v-2.6M403.32,273v-2.6M414.98,273v-2.6M426.64,273v-2.6M438.3,273v-5M449.96,273v-2.6M461.62,273v-2.6M473.28,273v-2.6M484.94,273v-2.6M496.6,273v-5M508.26,273v-2.6M519.92,273v-2.6M531.58,273v-2.6M543.24,273v-2.6M554.9,273v-5M566.56,273v-2.6M578.22,273v-2.6M589.88,273v-2.6M601.54,273v-2.6M613.2,273v-5M624.86,273v-2.6M636.52,273v-2.6M648.18,273v-2.6M659.84,273v-2.6M380,260.27h2.6M380,247.55h2.6M380,234.82h2.6M380,222.1h5M380,209.38h2.6M380,196.65h2.6M380,183.93h2.6M380,171.2h5M380,158.47h2.6M380,145.75h2.6M380,133.03h2.6M380,120.3h5M380,107.57h2.6M380,94.85h2.6M380,82.12h2.6M380,69.4h5M380,56.68h2.6M380,43.95h2.6M380,31.22h2.6" stroke="#1a1a1a" stroke-width="1.2" fill="none"/>
<rect x="53.5" y="292" width="292" height="255" fill="none" stroke="#1a1a1a" stroke-width="1.3"/>
<path d="M65.18,547v-2.6M76.86,547v-2.6M88.54,547v-2.6M100.22,547v-2.6M111.9,547v-5M123.58,547v-2.6M135.26,547v-2.6M146.94,547v-2.6M158.62,547v-2.6M170.3,547v-5M181.98,547v-2.6M193.66,547v-2.6M205.34,547v-2.6M217.02,547v-2.6M228.7,547v-5M240.38,547v-2.6M252.06,547v-2.6M263.74,547v-2.6M275.42,547v-2.6M287.1,547v-5M298.78,547v-2.6M310.46,547v-2.6M322.14,547v-2.6M333.82,547v-2.6M53.5,534.25h2.6M53.5,521.5h2.6M53.5,508.75h2.6M53.5,496h5M53.5,483.25h2.6M53.5,470.5h2.6M53.5,457.75h2.6M53.5,445h5M53.5,432.25h2.6M53.5,419.5h2.6M53.5,406.75h2.6M53.5,394h5M53.5,381.25h2.6M53.5,368.5h2.6M53.5,355.75h2.6M53.5,343h5M53.5,330.25h2.6M53.5,317.5h2.6M53.5,304.75h2.6" stroke="#1a1a1a" stroke-width="1.2" fill="none"/>
<text x="47.9" y="551.5" font-size="14.5" text-anchor="end" fill="#000">0.0</text>
<text x="47.9" y="500.5" font-size="14.5" text-anchor="end" fill="#000">0.2</text>
<text x="47.9" y="449.5" font-size="14.5" text-anchor="end" fill="#000">0.4</text>
<text x="47.9" y="398.5" font-size="14.5" text-anchor="end" fill="#000">0.6</text>
<text x="47.9" y="347.5" font-size="14.5" text-anchor="end" fill="#000">0.8</text>
<text x="47.9" y="296.5" font-size="14.5" text-anchor="end" fill="#000">1.0</text>
<text x="53.5" y="564" font-size="14.5" text-anchor="middle" fill="#000">0.00</text>
<text x="111.9" y="564" font-size="14.5" text-anchor="middle" fill="#000">0.05</text>
<text x="170.3" y="564" font-size="14.5" text-anchor="middle" fill="#000">0.10</text>
<text x="228.7" y="564" font-size="14.5" text-anchor="middle" fill="#000">0.15</text>
<text x="287.1" y="564" font-size="14.5" text-anchor="middle" fill="#000">0.20</text>
<text x="345.5" y="564" font-size="14.5" text-anchor="middle" fill="#000">0.25</text>
<rect x="380" y="292" width="291.5" height="255" fill="none" stroke="#1a1a1a" stroke-width="1.3"/>
<path d="M391.66,547v-2.6M403.32,547v-2.6M414.98,547v-2.6M426.64,547v-2.6M438.3,547v-5M449.96,547v-2.6M461.62,547v-2.6M473.28,547v-2.6M484.94,547v-2.6M496.6,547v-5M508.26,547v-2.6M519.92,547v-2.6M531.58,547v-2.6M543.24,547v-2.6M554.9,547v-5M566.56,547v-2.6M578.22,547v-2.6M589.88,547v-2.6M601.54,547v-2.6M613.2,547v-5M624.86,547v-2.6M636.52,547v-2.6M648.18,547v-2.6M659.84,547v-2.6M380,534.25h2.6M380,521.5h2.6M380,508.75h2.6M380,496h5M380,483.25h2.6M380,470.5h2.6M380,457.75h2.6M380,445h5M380,432.25h2.6M380,419.5h2.6M380,406.75h2.6M380,394h5M380,381.25h2.6M380,368.5h2.6M380,355.75h2.6M380,343h5M380,330.25h2.6M380,317.5h2.6M380,304.75h2.6" stroke="#1a1a1a" stroke-width="1.2" fill="none"/>
<text x="380" y="564" font-size="14.5" text-anchor="middle" fill="#000">0.00</text>
<text x="438.3" y="564" font-size="14.5" text-anchor="middle" fill="#000">0.05</text>
<text x="496.6" y="564" font-size="14.5" text-anchor="middle" fill="#000">0.10</text>
<text x="554.9" y="564" font-size="14.5" text-anchor="middle" fill="#000">0.15</text>
<text x="613.2" y="564" font-size="14.5" text-anchor="middle" fill="#000">0.20</text>
<text x="671.5" y="564" font-size="14.5" text-anchor="middle" fill="#000">0.25</text>
<text x="62.3" y="261.5" font-size="14" fill="#000">(a)</text>
<text x="389.4" y="261" font-size="14" fill="#000">(b)</text>
<text x="62.3" y="535.5" font-size="14" fill="#000">(c)</text>
<text x="389.4" y="535.5" font-size="14" fill="#000">(d)</text>
<text transform="translate(196.15 12.7) scale(1.025 1)" font-size="18" text-anchor="middle" fill="#000">ΔT= 0 K</text>
<text transform="translate(523.05 12.7) scale(1.015 1)" font-size="18" text-anchor="middle" fill="#000">ΔT= 400 K</text>
<text transform="translate(92 586.4) scale(1.015 1)" font-size="18" fill="#000">Fraction of Fe<tspan font-size="12" dy="-6.5">3+</tspan><tspan dy="6.5">-rich Bdg</tspan></text>
<text transform="translate(418.6 586.4) scale(1.015 1)" font-size="18" fill="#000">Fraction of Fe<tspan font-size="12" dy="-6.5">3+</tspan><tspan dy="6.5">-rich Bdg</tspan></text>
<g transform="translate(15.9 198.6) rotate(-90) scale(1.03 1)"><text x="0" y="0" font-size="18" fill="#000">Fe</text><text x="21.01" y="-7.2" font-size="12" fill="#000">2+</text><text x="21.01" y="5" font-size="12" fill="#000">Fp</text><text x="35.67" y="0" font-size="18" fill="#000">/Fe</text><text x="61.67" y="-7.2" font-size="12" fill="#000">2+</text><text x="61.67" y="5" font-size="12" fill="#000">Fp, NM</text></g>
<g transform="translate(15.9 472.1) rotate(-90) scale(1.03 1)"><text x="0" y="0" font-size="18" fill="#000">Fe</text><text x="21.01" y="-7.2" font-size="12" fill="#000">2+</text><text x="21.01" y="5" font-size="12" fill="#000">Fp</text><text x="35.67" y="0" font-size="18" fill="#000">/Fe</text><text x="61.67" y="-7.2" font-size="12" fill="#000">2+</text><text x="61.67" y="5" font-size="12" fill="#000">Fp, NM</text></g>
</svg></body></html>
